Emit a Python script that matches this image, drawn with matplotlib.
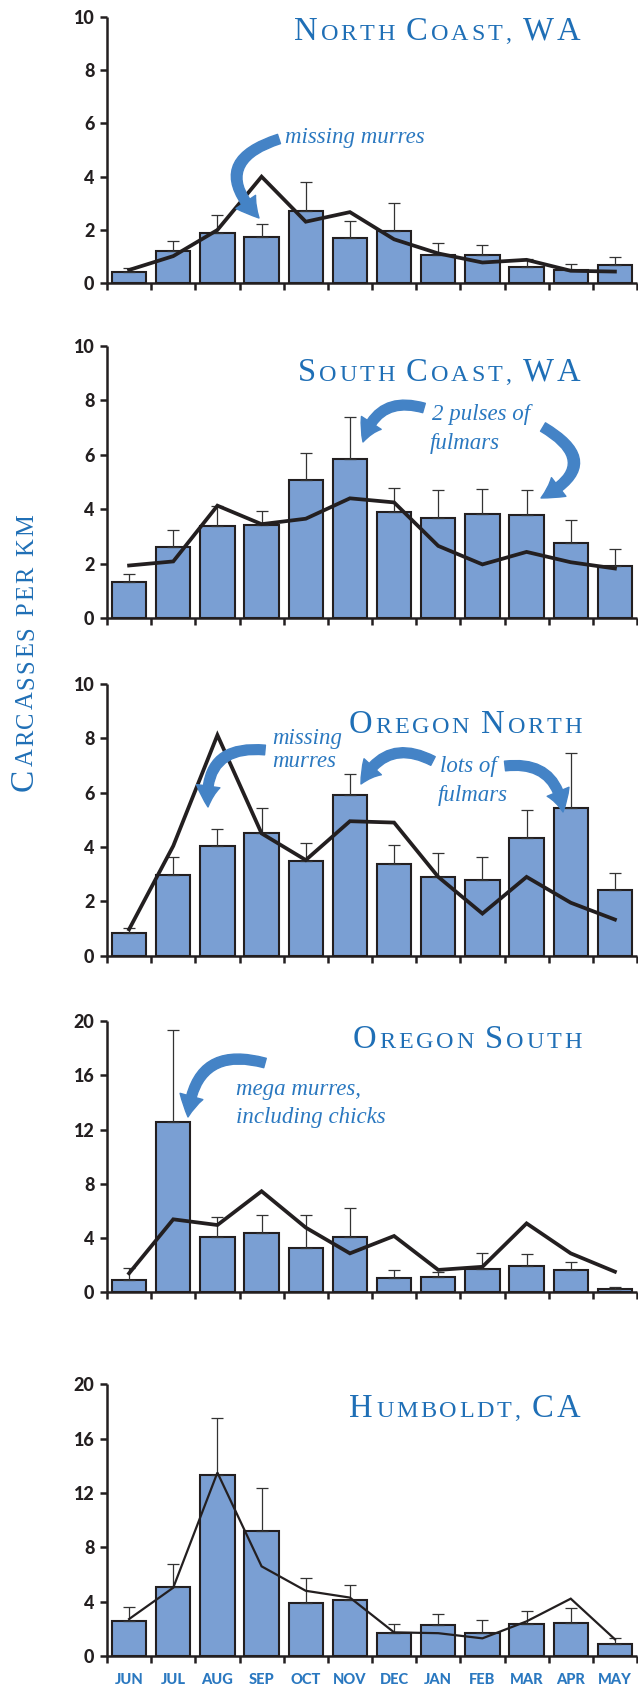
import numpy as np
import matplotlib
matplotlib.use("Agg")
import matplotlib.pyplot as plt
from matplotlib import font_manager
from matplotlib.ft2font import FT2Font
from matplotlib.patches import FancyArrowPatch

W, H = 638, 1686

months = ["JUN", "JUL", "AUG", "SEP", "OCT", "NOV", "DEC", "JAN", "FEB", "MAR", "APR", "MAY"]

# ---- data (carcasses per km) ----
nc_bars  = [0.41, 1.21, 1.90, 1.75, 2.72, 1.71, 1.96, 1.06, 1.05, 0.62, 0.50, 0.68]
nc_upper = [0.59, 1.60, 2.57, 2.22, 3.80, 2.32, 3.02, 1.51, 1.45, 0.91, 0.72, 0.97]
nc_line  = [0.50, 1.02, 2.00, 4.00, 2.31, 2.67, 1.65, 1.12, 0.78, 0.88, 0.47, 0.44]

sc_bars  = [1.33, 2.60, 3.38, 3.42, 5.06, 5.83, 3.90, 3.68, 3.83, 3.77, 2.75, 1.90]
sc_upper = [1.62, 3.25, 4.10, 3.95, 6.07, 7.38, 4.79, 4.70, 4.75, 4.70, 3.60, 2.55]
sc_line  = [1.93, 2.08, 4.13, 3.45, 3.65, 4.40, 4.25, 2.65, 1.97, 2.43, 2.05, 1.82]

on_bars  = [0.82, 2.98, 4.05, 4.50, 3.50, 5.90, 3.38, 2.88, 2.80, 4.32, 5.42, 2.40]
on_upper = [1.03, 3.65, 4.68, 5.45, 4.13, 6.67, 4.09, 3.78, 3.63, 5.36, 7.45, 3.05]
on_line  = [0.97, 4.04, 8.12, 4.50, 3.52, 4.95, 4.90, 2.90, 1.55, 2.90, 1.95, 1.33]

os_bars  = [0.93, 12.53, 4.05, 4.40, 3.27, 4.10, 1.05, 1.13, 1.74, 1.95, 1.62, 0.22]
os_upper = [1.79, 19.30, 5.58, 5.70, 5.70, 6.19, 1.66, 1.50, 2.92, 2.85, 2.20, 0.42]
os_line  = [1.40, 5.38, 4.96, 7.45, 4.77, 2.87, 4.15, 1.65, 1.88, 5.08, 2.87, 1.52]

hu_bars  = [2.60, 5.08, 13.35, 9.20, 3.90, 4.15, 1.70, 2.28, 1.72, 2.38, 2.42, 0.85]
hu_upper = [3.60, 6.78, 17.50, 12.40, 5.76, 5.20, 2.33, 3.12, 2.62, 3.33, 3.53, 1.30]
hu_line  = [2.72, 5.03, 13.50, 6.60, 4.80, 4.30, 1.74, 1.68, 1.30, 2.55, 4.22, 1.23]

titles = ["North Coast, WA", "South Coast, WA", "Oregon North", "Oregon South", "Humboldt, CA"]
ylims = [10, 10, 10, 20, 20]
ystep = [2, 2, 2, 4, 4]

panels = [
    (nc_bars, nc_upper, nc_line),
    (sc_bars, sc_upper, sc_line),
    (on_bars, on_upper, on_line),
    (os_bars, os_upper, os_line),
    (hu_bars, hu_upper, hu_line),
]

# ---- styling ----
BAR_FILL = "#7a9fd3"
DARK = "#231f20"
TITLE_BLUE = "#1f6fb6"
ARROW_BLUE = "#4483c6"
TEXT_BLUE = "#2a78c0"
SERIF = "Liberation Serif"

fig = plt.figure(figsize=(W / 100, H / 100), dpi=100)

# panel extents in pixels (top, bottom)
extents = [(16.7, 283.3), (346.0, 618.0), (684.0, 955.7), (1021.0, 1292.3), (1384.3, 1656.0)]
left_px, right_px = 107.0, 637.0

tick_fp = font_manager.FontProperties(family="Lato", weight=900, size=13)
mon_fp = font_manager.FontProperties(family="Lato", weight=900, size=10.5)

x = np.arange(12) + 0.5
axes = []
for i, ((bars, upper, line), (top, bot)) in enumerate(zip(panels, extents)):
    ax = fig.add_axes([left_px / W, 1 - bot / H, (right_px - left_px) / W, (bot - top) / H])
    axes.append(ax)
    bars = np.array(bars)
    upper = np.array(upper)
    ax.bar(x, bars, width=0.78, color=BAR_FILL, edgecolor=DARK, linewidth=1.5, zorder=2)
    ax.errorbar(x, bars, yerr=[np.zeros(12), upper - bars], fmt="none", ecolor="#333333",
                elinewidth=0.9, capsize=4.5, capthick=0.9, zorder=3)
    lw = 1.6 if i == 4 else 2.7
    ax.plot(x, line, color=DARK, lw=lw, solid_joinstyle="miter", zorder=4)
    ax.set_xlim(0, 12)
    ax.set_ylim(0, ylims[i])
    ax.set_yticks(np.arange(0, ylims[i] + 0.1, ystep[i]))
    ax.set_xticks(np.arange(13))
    ax.set_xticklabels([])
    for s in ("top", "right"):
        ax.spines[s].set_visible(False)
    for s in ("left", "bottom"):
        ax.spines[s].set_linewidth(1.8)
        ax.spines[s].set_color(DARK)
        ax.spines[s].set_capstyle("butt")
    ax.tick_params(axis="both", which="major", direction="out", length=5, width=1.8,
                   color=DARK, labelcolor=DARK, pad=4)
    for lbl in ax.get_yticklabels():
        lbl.set_fontproperties(tick_fp)
    if i == 4:
        ax.set_xticks(x, minor=True)
        ax.set_xticklabels(months, minor=True)
        ax.tick_params(axis="x", which="minor", length=0, pad=12.5, labelcolor=TEXT_BLUE)
        for lbl in ax.get_xticklabels(minor=True):
            lbl.set_fontproperties(mon_fp)

# ---- small caps helper ----
_fonts = {}
def advance(ch, size, family=SERIF):
    """Advance width of a glyph in pixels (100 dpi)."""
    if family not in _fonts:
        path = font_manager.findfont(font_manager.FontProperties(family=family))
        _fonts[family] = FT2Font(path, hinting_factor=1)
    f = _fonts[family]
    f.set_size(size, 72)
    g = f.load_char(ord(ch))
    a = g.linearHoriAdvance / 65536.0
    if not (0 < a < size * 2):
        a = g.horiAdvance / 64.0
    return a * 100 / 72

def smallcaps(text, xp, yp, size, ratio=0.74, track=2.5, color=TITLE_BLUE,
              anchor="right", rotation=0):
    chars = [(c.upper(), size * ratio if (c.islower() or c in " ,") else size) for c in text]
    advs = [advance(c, s) for c, s in chars]
    total = sum(advs) + track * (len(chars) - 1)
    pos = {"right": -total, "center": -total / 2, "left": 0}[anchor]
    for (c, s), a in zip(chars, advs):
        if rotation == 0:
            tx, ty = xp + pos, yp
        else:
            tx, ty = xp, yp - pos
        fig.text(tx / W, 1 - ty / H, c, fontsize=s, family=SERIF, color=color,
                 rotation=rotation, rotation_mode="anchor", ha="left", va="baseline")
        pos += a + track

title_baselines = [39.5, 380.7, 732.7, 1048.3, 1416.7]
for t, b in zip(titles, title_baselines):
    smallcaps(t, 581, b, 23.5, ratio=0.74, track=3.0)

smallcaps("Carcasses per km", 33, 652, 24, ratio=0.74, track=2.0, anchor="center", rotation=90)

# ---- annotations ----
def ftext(s, xp, yp):
    fig.text(xp / W, 1 - yp / H, s, fontsize=16.5, family=SERIF, style="italic",
             color=TEXT_BLUE, ha="left", va="baseline")

def farrow(start, tip, rad):
    p = FancyArrowPatch((start[0] / W, 1 - start[1] / H), (tip[0] / W, 1 - tip[1] / H),
                        transform=fig.transFigure, connectionstyle=f"arc3,rad={rad}",
                        arrowstyle="simple,head_length=15,head_width=17,tail_width=7",
                        color=ARROW_BLUE, shrinkA=0, shrinkB=0, zorder=10)
    fig.patches.append(p)

ftext("missing murres", 285, 143)
farrow((279, 139), (259, 218), 0.8)

ftext("2 pulses of", 432, 420)
ftext("fulmars", 430, 449)
farrow((424, 408), (363, 442), 0.5)
farrow((543, 427), (541, 498), -0.9)

ftext("missing", 272, 744)
ftext("murres", 272, 767)
farrow((265, 750), (208, 807), 0.6)
ftext("lots of", 440, 772)
ftext("fulmars", 438, 801)
farrow((433, 761), (361, 784), 0.5)
farrow((505, 766), (563, 812), -0.5)

ftext("mega murres,", 236, 1095)
ftext("including chicks", 236, 1123)
farrow((265, 1063), (188, 1117), 0.6)

fig.savefig("out.png", dpi=100)
